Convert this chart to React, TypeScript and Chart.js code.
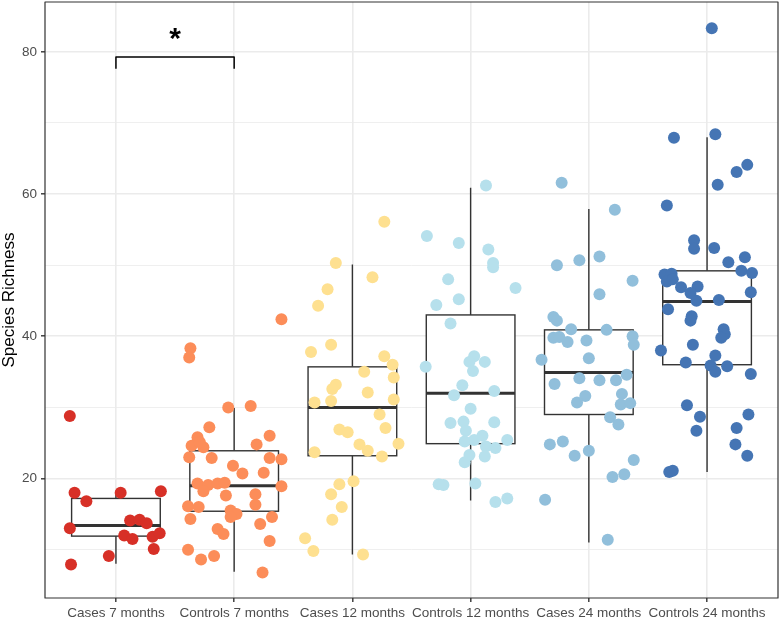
import React, { useEffect, useRef } from "react";
import { Chart, registerables } from "chart.js";

Chart.register(...registerables);

const categories = [
  "Cases 7 months",
  "Controls 7 months",
  "Cases 12 months",
  "Controls 12 months",
  "Cases 24 months",
  "Controls 24 months",
];

const colors = ["#d73027", "#fc8d59", "#fee090", "#b6e0ec", "#91bfdb", "#4575b4"];

// observed values and their horizontal jitter (in category units)
const cases7Values = [28.8, 18.0, 16.8, 18.0, 18.2, 13.0, 14.1, 14.2, 13.7, 12.0, 11.5, 11.8, 12.3, 10.1, 9.1, 7.9];
const cases7Jitter = [-0.39, -0.35, -0.25, 0.04, 0.38, -0.39, 0.12, 0.2, 0.26, 0.07, 0.14, 0.31, 0.37, 0.32, -0.06, -0.38];

const controls7Values = [42.4, 38.3, 37.0, 30.0, 30.2, 27.2, 26.0, 25.8, 24.6, 24.4, 25.1, 24.8, 23.0, 22.9, 22.9, 22.7, 21.8, 20.7, 20.8, 19.3, 19.1, 19.3, 19.4, 18.2, 17.6, 18.9, 17.8, 16.3, 16.1, 16.0, 14.3, 15.5, 15.0, 14.6, 14.6, 13.6, 12.9, 12.2, 11.2, 10.0, 8.6, 9.1, 6.8];
const controls7Jitter = [0.4, -0.37, -0.38, -0.05, 0.14, -0.21, 0.3, -0.31, -0.36, -0.26, -0.29, 0.19, -0.38, -0.19, 0.3, 0.4, -0.01, 0.07, 0.25, -0.31, -0.22, -0.14, -0.08, -0.26, -0.07, 0.4, 0.18, 0.18, -0.39, -0.3, -0.37, -0.03, 0.02, -0.03, 0.32, 0.22, -0.14, -0.09, 0.3, -0.39, -0.28, -0.17, 0.24];

const cases12Values = [56.1, 50.3, 48.3, 46.6, 44.3, 38.8, 37.8, 37.2, 36.0, 35.0, 34.2, 33.2, 32.6, 32.1, 30.7, 30.9, 31.1, 29.0, 27.1, 26.9, 26.5, 24.8, 24.9, 23.9, 23.7, 23.1, 19.6, 19.2, 17.8, 16.0, 14.2, 11.6, 9.8, 9.3];
const cases12Jitter = [0.27, -0.14, 0.17, -0.21, -0.29, -0.18, -0.35, 0.27, 0.34, 0.1, 0.35, -0.14, -0.17, 0.13, -0.32, -0.18, 0.35, 0.23, 0.28, -0.11, -0.04, 0.06, 0.39, 0.13, -0.32, 0.25, 0.01, -0.11, -0.18, -0.09, -0.17, -0.4, -0.33, 0.09];

const controls12Values = [61.2, 54.1, 53.1, 52.2, 50.3, 49.7, 46.8, 48.0, 45.2, 44.4, 41.8, 37.2, 36.4, 36.4, 35.1, 35.7, 33.1, 31.7, 32.3, 29.8, 27.8, 28.0, 27.9, 26.7, 25.2, 25.4, 26.0, 24.5, 24.3, 25.4, 23.3, 22.3, 23.1, 19.2, 19.1, 19.3, 16.7, 17.2];
const controls12Jitter = [0.13, -0.37, -0.1, 0.15, 0.19, 0.19, 0.38, -0.19, -0.1, -0.29, -0.17, 0.03, -0.01, 0.12, 0.02, -0.38, -0.07, -0.14, 0.2, 0.0, -0.17, -0.06, 0.2, -0.04, -0.05, 0.03, 0.1, 0.13, 0.21, 0.31, -0.01, -0.05, 0.12, -0.27, -0.23, 0.04, 0.21, 0.31];

const cases24Values = [61.6, 57.8, 50.0, 50.7, 51.2, 47.8, 45.9, 42.7, 42.2, 41.0, 40.9, 39.8, 39.9, 39.2, 39.4, 40.0, 38.8, 36.7, 36.9, 34.6, 33.3, 34.1, 33.8, 33.8, 31.9, 30.4, 30.6, 31.6, 30.7, 28.6, 27.6, 24.8, 25.2, 23.2, 23.9, 22.6, 20.2, 20.6, 17.0, 11.4];
const cases24Jitter = [-0.23, 0.22, -0.27, -0.08, 0.09, 0.37, 0.09, -0.3, -0.27, -0.15, 0.15, -0.3, -0.25, -0.18, -0.02, 0.37, 0.38, -0.4, 0.0, 0.32, -0.29, -0.08, 0.09, 0.23, 0.28, 0.27, 0.35, -0.03, -0.1, 0.18, 0.25, -0.33, -0.22, -0.12, 0.0, 0.38, 0.2, 0.3, -0.37, 0.16];

const controls24Values = [83.3, 67.9, 68.4, 64.1, 63.1, 61.3, 58.4, 53.5, 52.3, 52.4, 50.4, 51.1, 49.2, 48.9, 48.7, 48.8, 47.7, 48.0, 46.9, 47.0, 46.1, 45.0, 45.1, 46.2, 43.8, 42.8, 42.2, 41.0, 40.3, 39.8, 38.8, 38.0, 37.3, 36.3, 35.9, 35.0, 35.8, 34.7, 30.3, 28.7, 26.7, 29.0, 27.1, 24.8, 23.2, 20.9, 21.1];
const controls24Jitter = [0.04, -0.28, 0.07, 0.34, 0.25, 0.09, -0.34, -0.11, -0.11, 0.06, 0.18, 0.32, 0.29, 0.38, -0.36, -0.3, -0.34, -0.29, -0.22, -0.08, -0.14, -0.09, 0.1, 0.37, -0.33, -0.13, -0.14, 0.14, 0.15, 0.12, -0.12, -0.39, 0.07, -0.18, 0.03, 0.07, 0.17, 0.37, -0.17, -0.06, -0.09, 0.35, 0.25, 0.24, 0.34, -0.32, -0.29];

// box statistics
const q1 = [11.9, 15.4, 23.2, 24.9, 29.0, 36.0];
const medians = [13.4, 19.0, 30.0, 32.0, 34.9, 44.9];
const q3 = [17.2, 23.9, 35.7, 43.0, 40.9, 49.2];
const whiskerLow = [8.0, 6.9, 9.3, 16.9, 11.0, 20.9];
const whiskerHigh = [18.2, 29.9, 50.1, 60.9, 57.9, 68.0];

const yTickValues = [10, 20, 30, 40, 50, 60, 70, 80];
const yLabelValues = [20, 40, 60, 80];

// significance bracket between the first two groups
const sigGroups = [0, 1];
const sigTop = 79.25;
const sigTickEnd = 77.6;
const sigLabel = "*";
const sigLabelValue = 80.5;

const yTitle = "Species Richness";

const groupValues = [cases7Values, controls7Values, cases12Values, controls12Values, cases24Values, controls24Values];
const groupJitter = [cases7Jitter, controls7Jitter, cases12Jitter, controls12Jitter, cases24Jitter, controls24Jitter];

const BOX_WIDTH = 0.75;
const FONT = "'Liberation Sans', Arial, Helvetica, sans-serif";

const boxPlugin = {
  id: "boxes",
  beforeDatasetsDraw(chart: any) {
    const { ctx, scales } = chart;
    const x = scales.x;
    const y = scales.y;
    ctx.save();
    ctx.strokeStyle = "#333333";
    ctx.lineCap = "butt";
    for (let i = 0; i < categories.length; i++) {
      const cx = x.getPixelForValue(i);
      const left = x.getPixelForValue(i - BOX_WIDTH / 2);
      const right = x.getPixelForValue(i + BOX_WIDTH / 2);
      const yq1 = y.getPixelForValue(q1[i]);
      const yq3 = y.getPixelForValue(q3[i]);
      const ymed = y.getPixelForValue(medians[i]);
      const ylo = y.getPixelForValue(whiskerLow[i]);
      const yhi = y.getPixelForValue(whiskerHigh[i]);
      ctx.lineWidth = 1.4;
      ctx.beginPath();
      ctx.moveTo(cx, yq3);
      ctx.lineTo(cx, yhi);
      ctx.moveTo(cx, yq1);
      ctx.lineTo(cx, ylo);
      ctx.stroke();
      ctx.fillStyle = "#ffffff";
      ctx.fillRect(left, yq3, right - left, yq1 - yq3);
      ctx.strokeRect(left, yq3, right - left, yq1 - yq3);
      ctx.lineWidth = 3;
      ctx.beginPath();
      ctx.moveTo(left, ymed);
      ctx.lineTo(right, ymed);
      ctx.stroke();
    }
    ctx.restore();
  },
};

const overlayPlugin = {
  id: "overlay",
  afterDatasetsDraw(chart: any) {
    const { ctx, scales, chartArea } = chart;
    const x = scales.x;
    const y = scales.y;
    ctx.save();
    // significance bracket
    const x0 = x.getPixelForValue(sigGroups[0]);
    const x1 = x.getPixelForValue(sigGroups[1]);
    const yt = y.getPixelForValue(sigTop);
    const yb = y.getPixelForValue(sigTickEnd);
    ctx.strokeStyle = "#000000";
    ctx.lineWidth = 1.5;
    ctx.lineJoin = "round";
    ctx.beginPath();
    ctx.moveTo(x0, yb);
    ctx.lineTo(x0, yt);
    ctx.lineTo(x1, yt);
    ctx.lineTo(x1, yb);
    ctx.stroke();
    ctx.fillStyle = "#000000";
    ctx.font = `bold 30px ${FONT}`;
    ctx.textAlign = "center";
    ctx.textBaseline = "alphabetic";
    ctx.fillText(sigLabel, (x0 + x1) / 2, y.getPixelForValue(sigLabelValue));
    // panel border
    ctx.strokeStyle = "#333333";
    ctx.lineWidth = 1.2;
    ctx.strokeRect(chartArea.left, chartArea.top, chartArea.right - chartArea.left, chartArea.bottom - chartArea.top);
    // y title
    ctx.fillStyle = "#000000";
    ctx.font = `17px ${FONT}`;
    ctx.translate(9, (chartArea.top + chartArea.bottom) / 2);
    ctx.rotate(-Math.PI / 2);
    ctx.textAlign = "center";
    ctx.textBaseline = "middle";
    ctx.fillText(yTitle, 0, 0);
    ctx.restore();
  },
};

export default function App() {
  const canvasRef = useRef<HTMLCanvasElement | null>(null);

  useEffect(() => {
    const canvas = canvasRef.current;
    if (!canvas) return;
    const datasets = categories.map((name, i) => ({
      label: name,
      data: groupValues[i].map((v, k) => ({ x: i + groupJitter[i][k], y: v })),
      backgroundColor: colors[i],
      pointBackgroundColor: colors[i],
      pointBorderWidth: 0,
      pointRadius: 6,
      showLine: false,
    }));
    const chart = new Chart(canvas, {
      type: "scatter",
      data: { datasets },
      options: {
        animation: false,
        responsive: false,
        devicePixelRatio: 1,
        layout: { autoPadding: false, padding: { top: 2, right: 2, left: 0, bottom: 0 } },
        plugins: { legend: { display: false }, tooltip: { enabled: false } },
        scales: {
          x: {
            type: "linear",
            min: -0.6,
            max: 5.6,
            afterBuildTicks: (scale: any) => {
              scale.ticks = categories.map((_, i) => ({ value: i }));
            },
            afterFit: (scale: any) => {
              scale.height = 21;
              scale.paddingLeft = 0;
              scale.paddingRight = 0;
              scale.paddingTop = 0;
              scale.paddingBottom = 0;
            },
            border: { display: false },
            grid: {
              color: "#ebebeb",
              lineWidth: 1.6,
              drawTicks: true,
              tickLength: 4,
              tickColor: "#333333",
              tickWidth: 1.4,
            },
            ticks: {
              autoSkip: false,
              maxRotation: 0,
              padding: 3,
              color: "#4d4d4d",
              font: { family: FONT, size: 13.5 },
              callback: (v: any) => categories[Math.round(Number(v))] ?? "",
            },
          },
          y: {
            type: "linear",
            min: 3.2,
            max: 87.0,
            afterBuildTicks: (scale: any) => {
              scale.ticks = yTickValues.map((v) => ({ value: v }));
            },
            afterFit: (scale: any) => {
              scale.width = 45;
              scale.paddingLeft = 0;
              scale.paddingRight = 0;
              scale.paddingTop = 0;
              scale.paddingBottom = 0;
            },
            border: { display: false },
            grid: {
              color: "#ebebeb",
              lineWidth: (c: any) => (c.tick && yLabelValues.includes(c.tick.value) ? 1.6 : 0.8),
              drawTicks: true,
              tickLength: 4,
              tickColor: (c: any) => (c.tick && yLabelValues.includes(c.tick.value) ? "#333333" : "rgba(0,0,0,0)"),
              tickWidth: 1.4,
            },
            ticks: {
              autoSkip: false,
              padding: 4,
              color: "#4d4d4d",
              font: { family: FONT, size: 13.5 },
              callback: (v: any) => (yLabelValues.includes(Number(v)) ? String(v) : ""),
            },
          },
        },
      },
      plugins: [boxPlugin, overlayPlugin],
    } as any);
    return () => chart.destroy();
  }, []);

  return (
    <div style={{ position: "fixed", left: 0, top: 0, width: 780, height: 619, background: "#ffffff" }}>
      <canvas ref={canvasRef} width={780} height={619} style={{ display: "block" }} />
    </div>
  );
}
